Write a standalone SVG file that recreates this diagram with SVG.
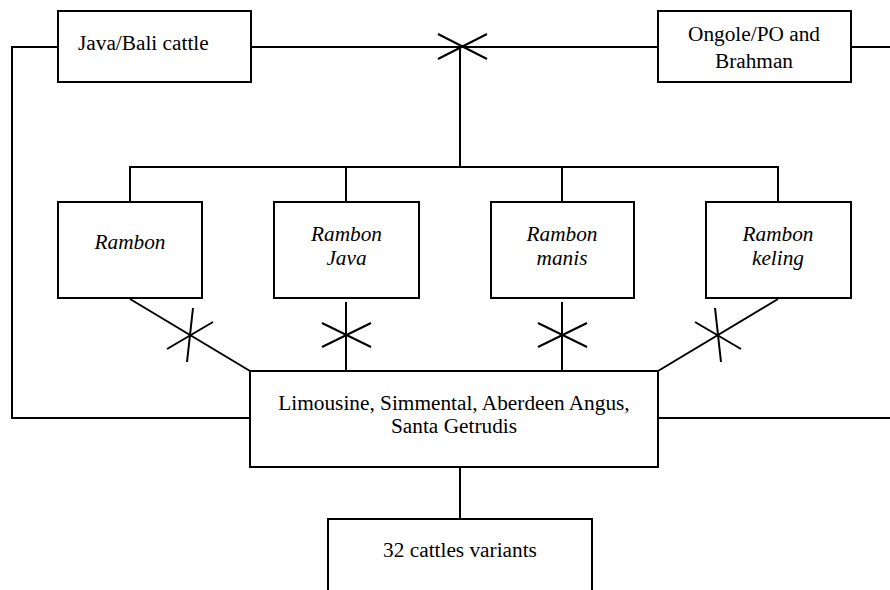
<svg xmlns="http://www.w3.org/2000/svg" width="890" height="590" viewBox="0 0 890 590">
<style>
.box{fill:#fff;stroke:#000;stroke-width:2}
.ln{fill:none;stroke:#000;stroke-width:2}
.t{font-family:'Liberation Serif','Times New Roman',Tinos,'DejaVu Serif',serif;font-size:21.3px;fill:#000;text-anchor:middle}
.i{font-style:italic}
.s{text-anchor:start}
</style>
<rect width="890" height="590" fill="#fff"/>
<g id="connectors" class="ln">
<polyline points="58,47 12,47 12,418 250,418"/>
<line x1="251" y1="47" x2="658" y2="47"/>
<line x1="851" y1="47" x2="890" y2="47"/>
<line x1="658" y1="418" x2="890" y2="418"/>
<line x1="438" y1="34" x2="487" y2="59"/>
<line x1="438" y1="59" x2="487" y2="34"/>
<line x1="460" y1="47" x2="460" y2="167"/>
<line x1="129" y1="167" x2="779" y2="167"/>
<line x1="130" y1="167" x2="130" y2="202"/>
<line x1="346" y1="167" x2="346" y2="202"/>
<line x1="562" y1="167" x2="562" y2="202"/>
<line x1="778" y1="167" x2="778" y2="202"/>
<line x1="130" y1="299" x2="250" y2="371"/>
<line x1="167" y1="349" x2="213" y2="322"/>
<line x1="187" y1="362" x2="193" y2="308"/>
<line x1="346" y1="302" x2="346" y2="370"/>
<line x1="322" y1="323" x2="371" y2="347"/>
<line x1="322" y1="347" x2="371" y2="323"/>
<line x1="562" y1="302" x2="562" y2="370"/>
<line x1="538" y1="323" x2="587" y2="347"/>
<line x1="538" y1="347" x2="587" y2="323"/>
<line x1="778" y1="299" x2="658" y2="371"/>
<line x1="695" y1="322" x2="741" y2="349"/>
<line x1="715" y1="308" x2="721" y2="362"/>
<line x1="460" y1="467" x2="460" y2="519"/>
</g>
<g id="java"><rect class="box" x="58" y="11" width="193" height="71"/><text class="t s" x="78" y="50">Java/Bali cattle</text></g>
<g id="ongole"><rect class="box" x="658" y="11" width="193" height="71"/><text class="t" x="754" y="41">Ongole/PO and</text><text class="t" x="754" y="68">Brahman</text></g>
<g id="rambon"><rect class="box" x="58" y="202" width="144" height="96"/><text class="t i" x="130" y="249">Rambon</text></g>
<g id="rambon-java"><rect class="box" x="274" y="202" width="145" height="96"/><text class="t i" x="346.5" y="241">Rambon</text><text class="t i" x="346.5" y="265">Java</text></g>
<g id="rambon-manis"><rect class="box" x="491" y="202" width="143" height="96"/><text class="t i" x="562" y="241">Rambon</text><text class="t i" x="562" y="265">manis</text></g>
<g id="rambon-keling"><rect class="box" x="706" y="202" width="145" height="96"/><text class="t i" x="778" y="241">Rambon</text><text class="t i" x="778" y="265">keling</text></g>
<g id="european"><rect class="box" x="250" y="371" width="408" height="96"/><text class="t" x="454" y="410">Limousine, Simmental, Aberdeen Angus,</text><text class="t" x="454" y="433">Santa Getrudis</text></g>
<g id="variants"><path class="ln" d="M328,592 V519 H592 V592"/><text class="t" x="460" y="557">32 cattles variants</text></g>
</svg>
